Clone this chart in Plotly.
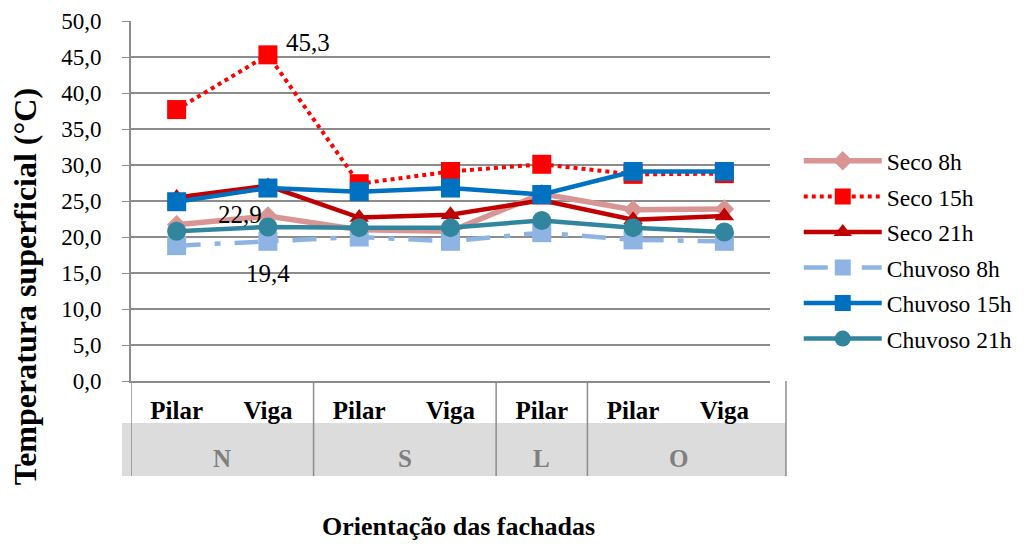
import plotly.graph_objects as go

# categorias (orientação / elemento)
orient = ["N", "N", "S", "S", "L", "O", "O"]
elem = ["Pilar", "Viga", "Pilar", "Viga", "Pilar", "Pilar", "Viga"]

seco_8h = [21.7, 22.9, 21.0, 20.8, 26.0, 23.8, 23.9]
seco_15h = [37.7, 45.3, 27.4, 29.1, 30.1, 28.7, 28.8]
seco_21h = [25.5, 27.1, 22.7, 23.1, 25.1, 22.4, 22.9]
chuv_8h = [18.8, 19.4, 20.0, 19.4, 20.6, 19.6, 19.4]
chuv_15h = [24.9, 26.8, 26.3, 26.8, 25.9, 29.1, 29.1]
chuv_21h = [20.8, 21.4, 21.3, 21.3, 22.3, 21.3, 20.7]

# rótulo de dados só no ponto N/Viga
label_idx = 1

FONT = "Liberation Serif"
xi = list(range(len(elem)))

series = [
    dict(name="Seco 8h", y=seco_8h, color="#D99594", dash="solid", width=5.5,
         symbol="diamond", size=15, lbl=(-28, 2)),
    dict(name="Seco 15h", y=seco_15h, color="#FF0000", dash="dot", width=4,
         symbol="square", size=19, lbl=(40, 12)),
    dict(name="Seco 21h", y=seco_21h, color="#C00000", dash="solid", width=4.5,
         symbol="triangle-up", size=17, lbl=None),
    dict(name="Chuvoso 8h", y=chuv_8h, color="#8EB4E3", dash="24px,14px,6px,14px", width=4.5,
         symbol="square", size=19, lbl=(0, -32)),
    dict(name="Chuvoso 15h", y=chuv_15h, color="#0070C0", dash="solid", width=4.5,
         symbol="square", size=19, lbl=None),
    dict(name="Chuvoso 21h", y=chuv_21h, color="#31859C", dash="solid", width=4.5,
         symbol="circle", size=19, lbl=None),
]

fig = go.Figure()
annotations = []
for i, s in enumerate(series):
    fig.add_trace(go.Scatter(
        x=xi, y=s["y"], name=s["name"], legendgroup=str(i), mode="lines+markers",
        line=dict(color=s["color"], width=s["width"], dash=s["dash"]),
        marker=dict(symbol=s["symbol"], size=s["size"], color=s["color"]),
    ))
    if s["lbl"]:
        v = s["y"][label_idx]
        annotations.append(dict(text=f"{v:.1f}".replace(".", ","), x=label_idx, y=v,
                                xref="x", yref="y", showarrow=False,
                                xshift=s["lbl"][0], yshift=s["lbl"][1],
                                font=dict(family=FONT, size=25, color="black")))

# grupos (N, S, L, O): rótulo central e divisórias
groups = []
for i, o in enumerate(orient):
    if groups and groups[-1][0] == o:
        groups[-1][2] = i
    else:
        groups.append([o, i, i])

GRID = "#8c8c8c"
shapes = [dict(type="rect", xref="paper", yref="paper", x0=-0.014, x1=1.025,
               y0=-0.264, y1=-0.117, fillcolor="#dcdcdc", line_width=0, layer="below")]
for g, a, b in groups:
    shapes.append(dict(type="line", xref="x", yref="paper", x0=a - 0.5, x1=a - 0.5,
                       y0=0, y1=-0.264, line=dict(color=GRID, width=1.5)))
    annotations.append(dict(text=f"<b>{g}</b>", x=(a + b) / 2, xref="x", yref="paper",
                            y=-0.214, yanchor="middle", showarrow=False,
                            font=dict(family=FONT, size=25, color="#7f7f7f")))
shapes.append(dict(type="line", xref="paper", yref="paper", x0=1.025, x1=1.025,
                   y0=0, y1=-0.264, line=dict(color=GRID, width=1.5)))

annotations += [
    dict(text="<b>Temperatura superficial (°C)</b>", textangle=-90, xref="paper", yref="paper",
         x=-0.166, y=0.263, yanchor="middle", xanchor="center", showarrow=False,
         font=dict(family=FONT, size=32)),
    dict(text="<b>Orientação das fachadas</b>", xref="paper", yref="paper",
         x=0.513, y=-0.405, xanchor="center", yanchor="middle", showarrow=False,
         font=dict(family=FONT, size=26)),
]

fig.update_layout(
    width=1035, height=549,
    margin=dict(l=123, r=273, t=13, b=176),
    paper_bgcolor="white", plot_bgcolor="white",
    font=dict(family=FONT, size=22, color="black"),
    legend=dict(x=1.045, y=0.672, xanchor="left", yanchor="top", itemwidth=78,
                font=dict(family=FONT, size=23.5), tracegroupgap=2,
                bgcolor="rgba(0,0,0,0)"),
    xaxis=dict(range=[-0.5, len(elem) - 0.5], tickvals=xi, ticktext=elem, automargin=False,
               showline=True, linecolor=GRID, linewidth=2, showgrid=False, zeroline=False,
               ticks="outside", ticklen=6, tickcolor="rgba(0,0,0,0)",
               tickfont=dict(family=FONT, size=25, color="black", weight="bold")),
    yaxis=dict(range=[0, 50], dtick=5, tickformat=".1f", automargin=False, showgrid=True,
               gridcolor=GRID, gridwidth=1.5, showline=True, linecolor=GRID,
               linewidth=2, ticks="outside", ticklen=7, tickcolor=GRID, ticklabelstandoff=16,
               ticklabeloverflow="allow", zeroline=False, tickfont=dict(family=FONT, size=23)),
    separators=",.",
    shapes=shapes,
    annotations=annotations,
)

fig.write_html("out.html")
